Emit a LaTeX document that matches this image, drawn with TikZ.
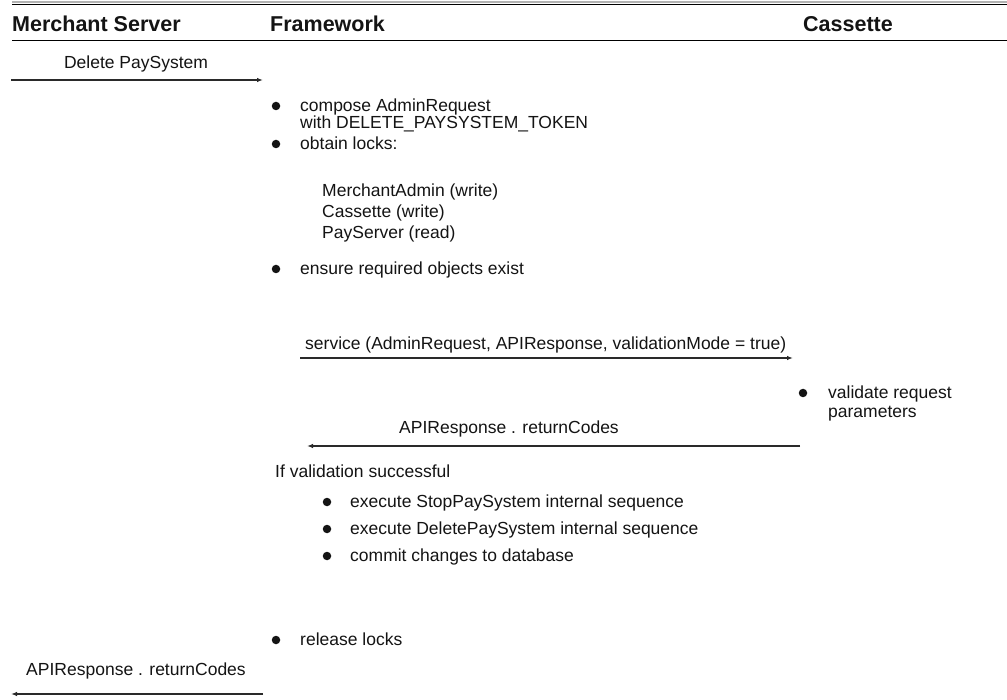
\documentclass[tikz,border=0pt]{standalone}
\usepackage{fontspec}
\setmainfont{Liberation Sans}
\usetikzlibrary{arrows.meta}
\definecolor{textc}{HTML}{141414}
\definecolor{linec}{HTML}{2A2A2A}
\tikzset{
  txt/.style={font=\fontsize{17.5}{20}\selectfont, inner sep=0pt, anchor=base west, text=textc},
  lbl/.style={font=\fontsize{17.5}{20}\selectfont, inner sep=0pt, anchor=base, text=textc},
  hdr/.style={font=\fontsize{21.5}{24}\selectfont\bfseries, inner sep=0pt, anchor=base west, text=textc},
  msg/.style={draw=linec, line width=1.3pt, -{Latex[length=6pt,width=4.5pt]}},
  bul/.style={circle, fill=textc, inner sep=0pt, minimum size=8.5pt}
}
\begin{document}
\begin{tikzpicture}[x=1pt,y=-1pt]
\useasboundingbox (0,0) rectangle (1007,700);
\fill[white] (0,0) rectangle (1007,700);
% header rules
\draw[gray!60, line width=2.6pt] (12,2) -- (1007,2);
\draw[black, line width=1pt] (12,4.3) -- (1007,4.3);
\draw[black, line width=1pt] (12,40.7) -- (1007,40.7);
% headers
\node[hdr] (hms) at (12,32) {Merchant Server};
\node[hdr] (hfw) at (270,32) {Framework};
\node[hdr] (hca) at (803,32) {Cassette};
% Delete PaySystem
\node[lbl] (ldel) at (136,68.5) {Delete PaySystem};
\coordinate (d1) at (11,80);
\coordinate (d2) at (263,80);
\draw[msg] (d1) -- (d2);
% bullets
\node[bul] (b1) at (276,106) {};
\node[txt] (t1a) at (300,111.3) {compose AdminRequest};
\node[txt] (t1b) at (300,128.8) {with DELETE\_PAYSYSTEM\_TOKEN};
\node[bul] (b2) at (276,144) {};
\node[txt] (t2) at (300,149.3) {obtain locks:};
\node[txt] (lk1) at (322,196.3) {MerchantAdmin (write)};
\node[txt] (lk2) at (322,217.3) {Cassette (write)};
\node[txt] (lk3) at (322,238.3) {PayServer (read)};
\node[bul] (b3) at (276,269) {};
\node[txt] (t3) at (300,274.3) {ensure required objects exist};
% service
\node[txt] (lsv) at (305,349.3) {service (AdminRequest, APIResponse, validationMode = true)};
\coordinate (s1) at (300,358);
\coordinate (s2) at (793,358);
\draw[msg] (s1) -- (s2);
% validate
\node[bul] (b4) at (803,393) {};
\node[txt] (t4a) at (828,398.3) {validate request};
\node[txt] (t4b) at (828,417.3) {parameters};
% return
\node[lbl] (lrt) at (509,433.3) {APIResponse . returnCodes};
\coordinate (r1) at (800,446);
\coordinate (r2) at (307,446);
\draw[msg] (r1) -- (r2);
% if validation
\node[txt] (tif) at (275,477.3) {If validation successful};
\node[bul] (c1) at (327,502) {};
\node[txt] (u1) at (350,507.3) {execute StopPaySystem internal sequence};
\node[bul] (c2) at (327,529) {};
\node[txt] (u2) at (350,534.3) {execute DeletePaySystem internal sequence};
\node[bul] (c3) at (327,556) {};
\node[txt] (u3) at (350,561.3) {commit changes to database};
\node[bul] (b5) at (276,640) {};
\node[txt] (t5) at (300,645.3) {release locks};
% final return
\node[lbl] (lfin) at (136,675.3) {APIResponse . returnCodes};
\coordinate (f1) at (263,694);
\coordinate (f2) at (11,694);
\draw[msg] (f1) -- (f2);
\end{tikzpicture}
\end{document}
